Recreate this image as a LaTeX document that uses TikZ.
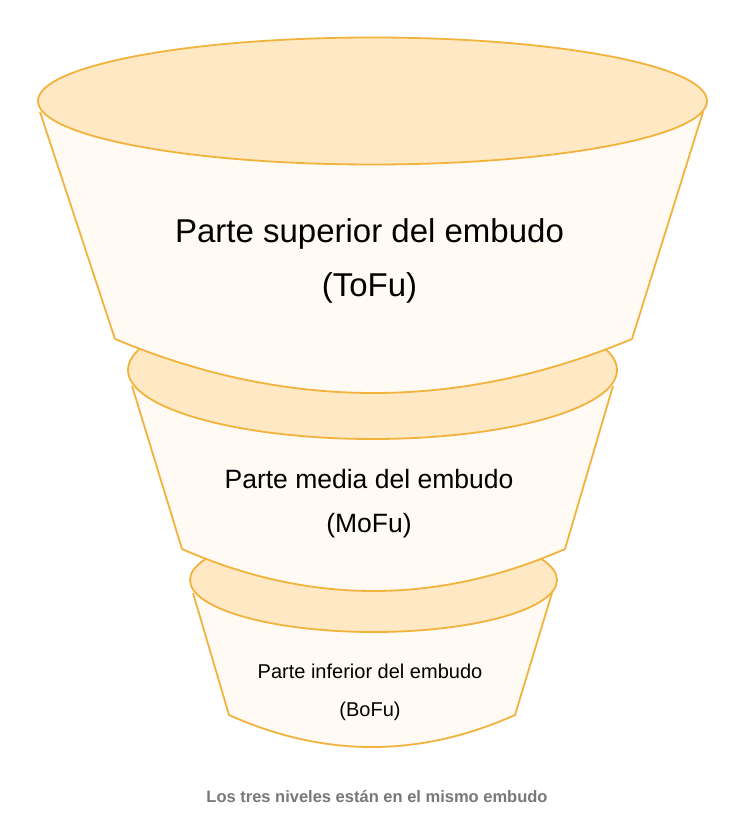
\documentclass[tikz,border=0pt]{standalone}
\usepackage{fontspec}
\setmainfont{Liberation Sans}
\usepackage{tikz}
\usetikzlibrary{positioning}
\definecolor{rimline}{HTML}{F2B33D}
\definecolor{lidfill}{HTML}{FFE8C4}
\definecolor{bodyfill}{HTML}{FFFAF3}
\definecolor{notegray}{HTML}{787878}

\begin{document}
\begin{tikzpicture}[x=1pt,y=-1pt,
	rim/.style={draw=rimline,line width=1.8pt,line join=round},
	lid/.style={rim,fill=lidfill},
	lbl/.style={anchor=base,inner sep=0pt,text=black}]
	\useasboundingbox[fill=white] (0,0) rectangle (738,834);
	% bottom level
	\fill[bodyfill] (193,593) -- (229,715) .. controls (324.3,757.7) and (419.7,757.7) .. (515,715) -- (552,593) -- cycle;
	\draw[rim] (193,593) -- (229,715) .. controls (324.3,757.7) and (419.7,757.7) .. (515,715) -- (552,593);
	\draw[lid] (373.5,580) ellipse[x radius=183.5,y radius=52];
	% middle level
	\fill[bodyfill] (132,386) -- (182,549) .. controls (309.7,605) and (437.3,605) .. (565,549) -- (613,386) -- cycle;
	\draw[rim] (132,386) -- (182,549) .. controls (309.7,605) and (437.3,605) .. (565,549) -- (613,386);
	\draw[lid] (372.5,370) ellipse[x radius=244.5,y radius=69];
	% top level
	\fill[bodyfill] (40,112) -- (115,339) .. controls (287.3,411) and (459.7,411) .. (632,339) -- (703,112) -- cycle;
	\draw[rim] (40,112) -- (115,339) .. controls (287.3,411) and (459.7,411) .. (632,339) -- (703,112);
	\draw[lid] (372.5,101) ellipse[x radius=334.5,y radius=63.5];

	\node[lbl,font=\fontsize{33}{40}\selectfont] (tofu) at (369.5,242) {Parte superior del embudo};
	\node[lbl,font=\fontsize{33}{40}\selectfont] (tofutag) at (369.5,296) {(ToFu)};
	\node[lbl,font=\fontsize{26.5}{32}\selectfont] (mofu) at (369,488) {Parte media del embudo};
	\node[lbl,font=\fontsize{26.5}{32}\selectfont] (mofutag) at (369,532) {(MoFu)};
	\node[lbl,font=\fontsize{20}{24}\selectfont] (bofu) at (370,678) {Parte inferior del embudo};
	\node[lbl,font=\fontsize{20}{24}\selectfont] (bofutag) at (370,716) {(BoFu)};
	\node[lbl,text=notegray,font=\fontsize{16.5}{20}\selectfont\bfseries] (nota) at (377,802) {Los tres niveles están en el mismo embudo};
\end{tikzpicture}
\end{document}
